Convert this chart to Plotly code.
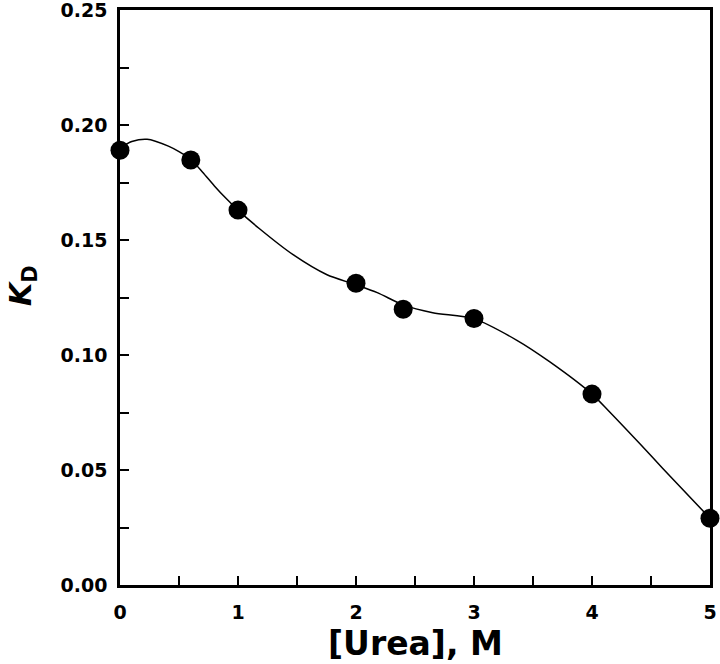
import plotly.graph_objects as go

# measured points
urea = [0, 0.6, 1.0, 2.0, 2.4, 3.0, 4.0, 5.0]
kd = [0.189, 0.1848, 0.163, 0.1312, 0.1199, 0.1159, 0.0830, 0.0290]

# fitted smooth curve
curve_x = [0, 0.1, 0.23, 0.41, 0.5, 0.6, 0.7, 0.8, 0.9, 1.0, 1.18, 1.47, 1.75, 2.0, 2.18, 2.4, 2.65, 3.0, 3.36, 3.64, 4.0, 4.15, 4.4, 4.6, 5.0]
curve_y = [0.190, 0.1928, 0.1938, 0.1908, 0.1884, 0.1850, 0.1795, 0.1735, 0.1680, 0.1630, 0.1550, 0.1435, 0.1350, 0.1305, 0.1271, 0.1218, 0.1184, 0.1157, 0.1065, 0.0971, 0.0830, 0.0752, 0.0617, 0.0507, 0.0290]

x_ticks = [0, 1, 2, 3, 4, 5]
y_ticks = [0.00, 0.05, 0.10, 0.15, 0.20, 0.25]
y_labels = ["0.00", "0.05", "0.10", "0.15", "0.20", "0.25"]
x_title = "[Urea], M"
y_title = "<i>K</i><sub>D</sub>"

FONT = "DejaVu Sans"

fig = go.Figure()
fig.add_trace(go.Scatter(x=curve_x, y=curve_y, mode="lines",
                         line=dict(color="black", width=1.5, shape="spline", smoothing=0.8),
                         hoverinfo="skip", showlegend=False))
fig.add_trace(go.Scatter(x=urea, y=kd, mode="markers",
                         marker=dict(color="black", size=19),
                         cliponaxis=False, showlegend=False))

axis_common = dict(
    showline=True, linecolor="black", linewidth=2.5, mirror=True,
    ticks="inside", ticklen=9, tickwidth=2, tickcolor="black",
    showgrid=False, zeroline=False, ticklabeloverflow="allow",
    tickfont=dict(family=FONT, size=19, color="black", weight="bold"),
)

fig.update_xaxes(
    range=[0, 5], tickvals=x_ticks, ticktext=[str(v) for v in x_ticks],
    minor=dict(dtick=0.5, ticks="inside", ticklen=9, tickwidth=2, tickcolor="black", showgrid=False),
    ticklabelstandoff=8,
    **axis_common,
)
fig.update_yaxes(
    range=[0, 0.25], tickvals=y_ticks, ticktext=y_labels,
    minor=dict(dtick=0.025, ticks="inside", ticklen=9, tickwidth=2, tickcolor="black", showgrid=False),
    ticklabelstandoff=6,
    **axis_common,
)

fig.add_annotation(text=x_title, xref="paper", yref="paper", x=0.5, y=0,
                   xanchor="center", yanchor="middle", yshift=-58, showarrow=False,
                   font=dict(family=FONT, size=33, color="black", weight="bold"))
fig.add_annotation(text=y_title, xref="paper", yref="paper", x=0, y=0.52,
                   xanchor="center", yanchor="middle", xshift=-98, textangle=-90, showarrow=False,
                   font=dict(family=FONT, size=30, color="black", weight="bold"))

fig.update_layout(
    width=720, height=664,
    margin=dict(l=120, r=10, t=10, b=79, autoexpand=False),
    paper_bgcolor="white", plot_bgcolor="white",
    showlegend=False,
)

# remove the browser's default 8px body margin so the figure sits at the page origin
fig.write_html("out.html", config={"displayModeBar": False},
               post_script="document.body.style.margin='0px';")
